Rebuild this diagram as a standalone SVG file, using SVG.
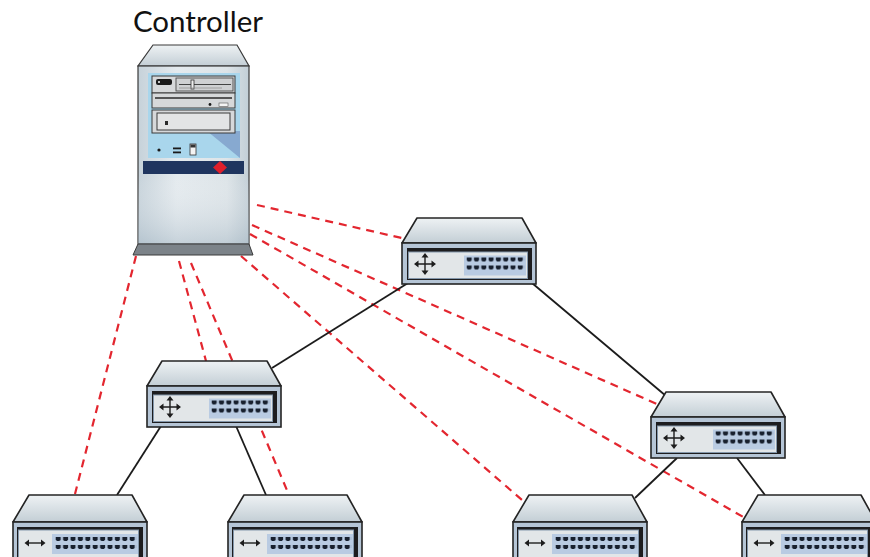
<svg xmlns="http://www.w3.org/2000/svg" xmlns:xlink="http://www.w3.org/1999/xlink" width="870" height="557" viewBox="0 0 870 557">
  <style>
    .label { font-family: "Lato", "Open Sans", "Liberation Sans", sans-serif; font-size: 29.5px; font-weight: 400; fill: #111111; }
    .ctl { fill: none; stroke: #e3262f; stroke-width: 2.2; stroke-dasharray: 8 6; }
    .link { fill: none; stroke: #1c1c1c; stroke-width: 1.8; }
    .sw-top { fill: url(#topG); stroke: #242424; stroke-width: 1.6; stroke-linejoin: round; }
    .sw-front { fill: #b5c5d6; stroke: #242424; stroke-width: 1.6; }
    .sw-bezel { fill: #1d1d1f; }
    .sw-panel { fill: #e2e6e8; stroke: #8497ab; stroke-width: 1; }
    .sw-block { fill: #b9cbe2; }
    .icon { fill: none; stroke: #1d1d1d; stroke-width: 1.4; }
    .icon-head { fill: #1d1d1d; }
    .bay { fill: #d6d8da; stroke: #3a3a3a; stroke-width: 1; }
  </style>
  <defs>
    <linearGradient id="topG" x1="0" y1="0" x2="0" y2="1">
      <stop offset="0" stop-color="#eef2f4"/>
      <stop offset="1" stop-color="#c3ced5"/>
    </linearGradient>
    <linearGradient id="bodyG" x1="0" y1="0" x2="1" y2="0">
      <stop offset="0" stop-color="#c6d2da"/>
      <stop offset="0.35" stop-color="#e4eaee"/>
      <stop offset="0.8" stop-color="#dde4e8"/>
      <stop offset="1" stop-color="#c2ced6"/>
    </linearGradient>
    <linearGradient id="shadeG" x1="0" y1="0" x2="0" y2="1">
      <stop offset="0" stop-color="#ffffff" stop-opacity="0"/>
      <stop offset="1" stop-color="#9fb2c0" stop-opacity="0.45"/>
    </linearGradient>
    <!-- one RJ45-style port glyph per tile -->
    <pattern id="ports" patternUnits="userSpaceOnUse" x="64" y="13.5" width="7.3" height="8">
      <path d="M0.7,1 h5 v2.4 l-1.1,1.6 h-2.8 l-1.1,-1.6 z" fill="#18202e"/>
    </pattern>
    <pattern id="portsE" patternUnits="userSpaceOnUse" x="42" y="14" width="7.4" height="8">
      <path d="M0.7,1 h5 v2.4 l-1.1,1.6 h-2.8 l-1.1,-1.6 z" fill="#18202e"/>
    </pattern>

    <!-- aggregation switch: origin at top-left of the front face -->
    <g id="aggSwitch">
      <path class="sw-top" d="M15,-25 H120 L134,0 H0 Z"/>
      <rect class="sw-front" x="0" y="0" width="134" height="41"/>
      <rect class="sw-bezel" x="5" y="5" width="125" height="32"/>
      <rect class="sw-panel" x="6.5" y="9" width="119" height="26.5"/>
      <rect class="sw-block" x="62" y="12.5" width="62" height="20"/>
      <rect x="64" y="13.5" width="58.4" height="16" fill="url(#ports)"/>
      <g transform="translate(23,21)">
        <path class="icon" d="M-8,0 H8 M0,-8 V8"/>
        <path class="icon-head" d="M-11,0 L-6.5,-3.5 L-6.5,3.5 Z M11,0 L6.5,-3.5 L6.5,3.5 Z M0,-11 L-3.5,-6.5 L3.5,-6.5 Z M0,11 L-3.5,6.5 L3.5,6.5 Z"/>
      </g>
    </g>

    <!-- edge switch: origin at top-left of the front face -->
    <g id="edgeSwitch">
      <path class="sw-top" d="M16,-27 H119 L134,0 H0 Z"/>
      <rect class="sw-front" x="0" y="0" width="134" height="44"/>
      <rect class="sw-bezel" x="4" y="5" width="126" height="36"/>
      <rect class="sw-panel" x="5.5" y="8" width="120" height="32"/>
      <rect class="sw-block" x="39" y="12" width="86" height="20"/>
      <rect x="42" y="14" width="81.4" height="16" fill="url(#portsE)"/>
      <g transform="translate(22,21)">
        <path class="icon" d="M-7,0 H7"/>
        <path class="icon-head" d="M-10.5,0 L-6,-3.5 L-6,3.5 Z M10.5,0 L6,-3.5 L6,3.5 Z"/>
      </g>
    </g>
  </defs>

  <rect width="870" height="557" fill="#ffffff"/>

  <!-- links: data-plane (solid) and control channels (dashed) -->
  <g id="connectors">
    <line class="ctl" x1="136" y1="256" x2="75" y2="494"/>
    <line class="ctl" x1="179" y1="261" x2="206" y2="361"/>
    <line class="ctl" x1="191" y1="263" x2="289" y2="495"/>
    <line class="ctl" x1="257" y1="205" x2="406" y2="239"/>
    <line class="ctl" x1="252" y1="225" x2="659" y2="405"/>
    <line class="ctl" x1="250" y1="234" x2="745" y2="518"/>
    <line class="ctl" x1="241" y1="256" x2="522" y2="500"/>

    <line class="link" x1="408" y1="283" x2="272" y2="368"/>
    <line class="link" x1="532" y1="283" x2="666" y2="396"/>
    <line class="link" x1="161" y1="426" x2="117" y2="495"/>
    <line class="link" x1="236" y1="426" x2="266" y2="495"/>
    <line class="link" x1="677" y1="458" x2="635" y2="498"/>
    <line class="link" x1="737" y1="458" x2="765" y2="495"/>
  </g>

  <!-- controller tower -->
  <g id="controller">
    <text class="label" x="198" y="32" text-anchor="middle">Controller</text>
    <path d="M153,45 H237 L249,66 H138 Z" fill="url(#topG)" stroke="#3a3a3a" stroke-width="1.2"/>
    <rect x="138" y="66" width="111" height="178" fill="url(#bodyG)" stroke="#3a3a3a" stroke-width="1.2"/>
    <rect x="138" y="175" width="111" height="69" fill="url(#shadeG)"/>
    <path d="M138,244 H249 L253,255 H133 Z" fill="#7c8389" stroke="#3a3a3a" stroke-width="1"/>
    <!-- front panel -->
    <rect x="148" y="73" width="92" height="85" fill="#a9d6ec"/>
    <path d="M207,131 H240 V158 Z" fill="#87a9d0"/>
    <!-- drive bays -->
    <rect class="bay" x="152" y="76" width="83" height="17"/>
    <rect x="156" y="79" width="16" height="6" rx="2" fill="#1a1a1a"/>
    <circle cx="159" cy="82" r="1" fill="#ffffff"/>
    <rect x="176" y="78" width="57" height="13" fill="#cfd1d3" stroke="#4a4a4a" stroke-width="0.9"/>
    <line x1="179" y1="84.5" x2="231" y2="84.5" stroke="#333" stroke-width="0.9"/>
    <rect x="191" y="80" width="3" height="9" fill="#eeeeee" stroke="#333" stroke-width="0.8"/>
    <line x1="179" y1="88" x2="222" y2="88" stroke="#8a8a8a" stroke-width="0.7"/>
    <rect class="bay" x="152" y="93" width="83" height="15"/>
    <line x1="155" y1="98" x2="232" y2="98" stroke="#2a2a2a" stroke-width="1.4"/>
    <circle cx="210" cy="104.5" r="1.4" fill="#1a1a1a"/>
    <rect x="219" y="103" width="9" height="3.5" fill="#f4f4f4" stroke="#555" stroke-width="0.6"/>
    <rect class="bay" x="152" y="110" width="83" height="23"/>
    <rect x="157" y="113" width="73" height="17" fill="#e3e4e5" stroke="#3a3a3a" stroke-width="1"/>
    <rect x="165" y="121" width="3" height="4" fill="#2a2a2a"/>
    <!-- buttons -->
    <circle cx="159" cy="150" r="1.6" fill="#1a1a1a"/>
    <rect x="173" y="147.5" width="8" height="1.8" fill="#1a1a1a"/>
    <rect x="173" y="151.5" width="8" height="1.8" fill="#1a1a1a"/>
    <rect x="190" y="144" width="6" height="11" fill="#f4f4f4" stroke="#333" stroke-width="0.8"/>
    <rect x="190.5" y="144.5" width="5" height="3" fill="#333"/>
    <!-- badge strip -->
    <rect x="143" y="161" width="101" height="13" fill="#1f355f"/>
    <path d="M220,161 L227,167.5 L220,174 L213,167.5 Z" fill="#e01f2b"/>
  </g>

  <!-- aggregation switches -->
  <g id="switch-core"><use xlink:href="#aggSwitch" href="#aggSwitch" transform="translate(402,243)"/></g>
  <g id="switch-left"><use xlink:href="#aggSwitch" href="#aggSwitch" transform="translate(147,386)"/></g>
  <g id="switch-right"><use xlink:href="#aggSwitch" href="#aggSwitch" transform="translate(651,417)"/></g>

  <!-- edge switches -->
  <g id="edge-1"><use xlink:href="#edgeSwitch" href="#edgeSwitch" transform="translate(13,522)"/></g>
  <g id="edge-2"><use xlink:href="#edgeSwitch" href="#edgeSwitch" transform="translate(228,522)"/></g>
  <g id="edge-3"><use xlink:href="#edgeSwitch" href="#edgeSwitch" transform="translate(513,522)"/></g>
  <g id="edge-4"><use xlink:href="#edgeSwitch" href="#edgeSwitch" transform="translate(742,522)"/></g>
</svg>
